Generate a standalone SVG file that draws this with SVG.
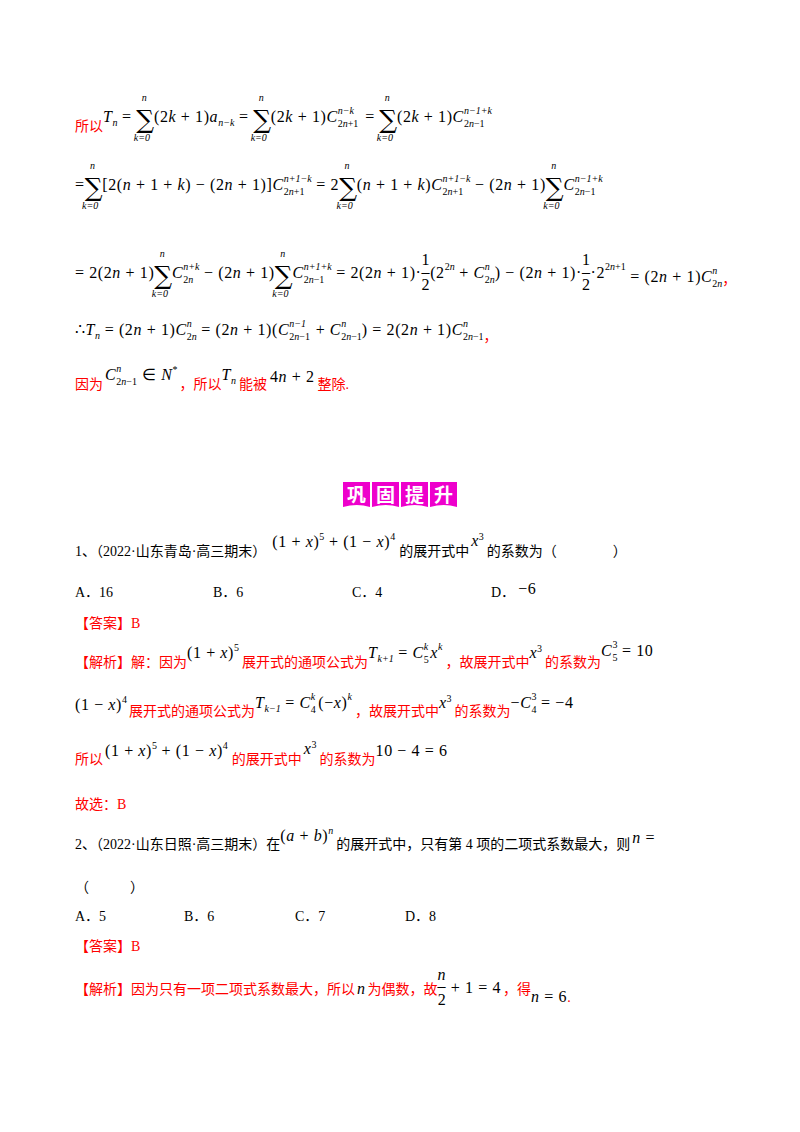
<svg xmlns="http://www.w3.org/2000/svg" width="800" height="1132" viewBox="0 0 800 1132">
<style>
.m{font-family:"Liberation Serif",serif;font-size:16px;fill:#000;letter-spacing:0.6px}
.i{font-style:italic}
.s{font-family:"Liberation Serif",serif;font-size:10px;letter-spacing:0}
.sg{font-family:"DejaVu Serif",serif;font-size:25px}
.r{font-family:"Liberation Serif","Noto Sans CJK SC",sans-serif;font-size:14px;fill:#ff0000;letter-spacing:0}
.k{font-family:"Liberation Serif","Noto Sans CJK SC",sans-serif;font-size:14px;fill:#000;letter-spacing:0}
.t{font-family:"Noto Sans CJK SC",sans-serif;font-size:19px;font-weight:bold;fill:#fff}
.box{fill:#ee00cc}
</style>
<rect width="800" height="1132" fill="#fff"/>
<g id="proof">
<text class="r" x="75" y="131">所以</text>
<text class="m" x="103" y="122"><tspan class="i">T</tspan><tspan class="s i" dy="4">n</tspan><tspan dy="-4"> = </tspan><tspan class="sg" dy="6">∑</tspan><tspan class="s i" dx="-13" dy="-27">n</tspan><tspan class="s i" dx="-13" dy="40">k=0</tspan><tspan dx="4" dy="-19">(2<tspan class="i">k</tspan> + 1)<tspan class="i">a</tspan></tspan><tspan class="s i" dy="4">n−k</tspan><tspan dy="-4"> = </tspan><tspan class="sg" dy="6">∑</tspan><tspan class="s i" dx="-13" dy="-27">n</tspan><tspan class="s i" dx="-13" dy="40">k=0</tspan><tspan dx="4" dy="-19">(2<tspan class="i">k</tspan> + 1)<tspan class="i">C</tspan></tspan><tspan class="s" dy="5">2<tspan class="i">n</tspan>+1</tspan><tspan class="s i" dx="-20.6" dy="-13">n−k</tspan><tspan dx="6.6" dy="8"> = </tspan><tspan class="sg" dy="6">∑</tspan><tspan class="s i" dx="-13" dy="-27">n</tspan><tspan class="s i" dx="-13" dy="40">k=0</tspan><tspan dx="4" dy="-19">(2<tspan class="i">k</tspan> + 1)<tspan class="i">C</tspan></tspan><tspan class="s" dy="5">2<tspan class="i">n</tspan>−1</tspan><tspan class="s i" dx="-20.6" dy="-13">n−1+k</tspan></text>

<text class="m" x="75" y="190">=<tspan class="sg" dy="6">∑</tspan><tspan class="s i" dx="-13" dy="-27">n</tspan><tspan class="s i" dx="-13" dy="40">k=0</tspan><tspan dx="4" dy="-19">[2(<tspan class="i">n</tspan> + 1 + <tspan class="i">k</tspan>) − (2<tspan class="i">n</tspan> + 1)]<tspan class="i">C</tspan></tspan><tspan class="s" dy="5">2<tspan class="i">n</tspan>+1</tspan><tspan class="s i" dx="-20.6" dy="-13">n+1−k</tspan><tspan dy="8"> = 2</tspan><tspan class="sg" dy="6">∑</tspan><tspan class="s i" dx="-13" dy="-27">n</tspan><tspan class="s i" dx="-13" dy="40">k=0</tspan><tspan dx="4" dy="-19">(<tspan class="i">n</tspan> + 1 + <tspan class="i">k</tspan>)<tspan class="i">C</tspan></tspan><tspan class="s" dy="5">2<tspan class="i">n</tspan>+1</tspan><tspan class="s i" dx="-20.6" dy="-13">n+1−k</tspan><tspan dy="8"> − (2<tspan class="i">n</tspan> + 1)</tspan><tspan class="sg" dy="6">∑</tspan><tspan class="s i" dx="-13" dy="-27">n</tspan><tspan class="s i" dx="-13" dy="40">k=0</tspan><tspan class="i" dx="4" dy="-19">C</tspan><tspan class="s" dy="5">2<tspan class="i">n</tspan>−1</tspan><tspan class="s i" dx="-20.6" dy="-13">n−1+k</tspan></text>

<text class="m" x="75" y="278">= 2(2<tspan class="i">n</tspan> + 1)<tspan class="sg" dy="6">∑</tspan><tspan class="s i" dx="-13" dy="-27">n</tspan><tspan class="s i" dx="-13" dy="40">k=0</tspan><tspan class="i" dx="4" dy="-19">C</tspan><tspan class="s" dy="5">2<tspan class="i">n</tspan></tspan><tspan class="s i" dx="-10" dy="-13">n+k</tspan><tspan dy="8"> − (2<tspan class="i">n</tspan> + 1)</tspan><tspan class="sg" dy="6">∑</tspan><tspan class="s i" dx="-13" dy="-27">n</tspan><tspan class="s i" dx="-13" dy="40">k=0</tspan><tspan class="i" dx="4" dy="-19">C</tspan><tspan class="s" dy="5">2<tspan class="i">n</tspan>−1</tspan><tspan class="s i" dx="-20.6" dy="-13">n+1+k</tspan><tspan dy="8"> = 2(2<tspan class="i">n</tspan> + 1)·</tspan><tspan dy="-13">1</tspan><tspan dx="-8.6" dy="12">–</tspan><tspan dx="-8.6" dy="13">2</tspan><tspan dy="-12">(2</tspan><tspan class="s" dy="-8">2<tspan class="i">n</tspan></tspan><tspan dy="8"> + <tspan class="i">C</tspan></tspan><tspan class="s" dy="5">2<tspan class="i">n</tspan></tspan><tspan class="s i" dx="-10" dy="-13">n</tspan><tspan dx="5" dy="8">) − (2<tspan class="i">n</tspan> + 1)·</tspan><tspan dy="-13">1</tspan><tspan dx="-8.6" dy="12">–</tspan><tspan dx="-8.6" dy="13">2</tspan><tspan dy="-12">·2</tspan><tspan class="s" dy="-8">2<tspan class="i">n</tspan>+1</tspan><tspan dy="12"> = (2<tspan class="i">n</tspan> + 1)<tspan class="i">C</tspan></tspan><tspan class="s" dy="5">2<tspan class="i">n</tspan></tspan><tspan class="s i" dx="-10" dy="-13">n</tspan><tspan class="r" dx="5" dy="10">，</tspan></text>

<text class="m" x="75" y="335">∴<tspan class="i">T</tspan><tspan class="s i" dy="4">n</tspan><tspan dy="-4"> = (2<tspan class="i">n</tspan> + 1)<tspan class="i">C</tspan></tspan><tspan class="s" dy="5">2<tspan class="i">n</tspan></tspan><tspan class="s i" dx="-10" dy="-13">n</tspan><tspan dx="5" dy="8"> = (2<tspan class="i">n</tspan> + 1)(<tspan class="i">C</tspan></tspan><tspan class="s" dy="5">2<tspan class="i">n</tspan>−1</tspan><tspan class="s i" dx="-20.6" dy="-13">n−1</tspan><tspan dx="5" dy="8"> + <tspan class="i">C</tspan></tspan><tspan class="s" dy="5">2<tspan class="i">n</tspan>−1</tspan><tspan class="s i" dx="-20.6" dy="-13">n</tspan><tspan dx="15.6" dy="8">) = 2(2<tspan class="i">n</tspan> + 1)<tspan class="i">C</tspan></tspan><tspan class="s" dy="5">2<tspan class="i">n</tspan>−1</tspan><tspan class="s i" dx="-20.6" dy="-13">n</tspan><tspan class="r" dx="15.6" dy="14">，</tspan></text>

<text class="m" x="75" y="389"><tspan class="r">因为</tspan><tspan class="i" dx="2" dy="-9">C</tspan><tspan class="s" dy="5">2<tspan class="i">n</tspan>−1</tspan><tspan class="s i" dx="-20.6" dy="-13">n</tspan><tspan dx="16" dy="8"> ∈ <tspan class="i">N</tspan></tspan><tspan class="s" dy="-7">*</tspan><tspan class="r" dx="2" dy="16">，所以</tspan><tspan class="i" dy="-9">T</tspan><tspan class="s i" dy="4">n</tspan><tspan class="r" dx="3" dy="5">能被</tspan><tspan dx="3" dy="-7">4<tspan class="i">n</tspan> + 2</tspan><tspan class="r" dx="3" dy="7">整除.</tspan></text>
</g>
<g id="title">
<path class="box" d="M343 482h27v25q-13-4-27 0z"/>
<path class="box" d="M372 482h27v25q-13-4-27 0z"/>
<path class="box" d="M401 482h27v25q-13-4-27 0z"/>
<path class="box" d="M430 482h27v25q-13-4-27 0z"/>
<text class="t" x="347" y="502">巩</text><text class="t" x="376" y="502">固</text><text class="t" x="405" y="502">提</text><text class="t" x="434" y="502">升</text>
</g>
<g id="q1">
<text class="m" x="75" y="556"><tspan class="k">1、（2022·山东青岛·高三期末）</tspan><tspan dx="6" dy="-9">(1 + <tspan class="i">x</tspan>)</tspan><tspan class="s" dy="-7">5</tspan><tspan dy="7"> + (1 − <tspan class="i">x</tspan>)</tspan><tspan class="s" dy="-7">4</tspan><tspan class="k" dx="4" dy="16">的展开式中</tspan><tspan class="i" dx="2" dy="-10">x</tspan><tspan class="s" dy="-6">3</tspan><tspan class="k" dx="3" dy="16">的系数为（</tspan><tspan class="k" dx="56">）</tspan></text>
<text class="k" x="75" y="597">A．16</text><text class="k" x="213" y="597">B．6</text><text class="k" x="352" y="597">C．4</text><text class="k" x="491" y="597">D．<tspan class="m" dx="3" dy="-3">−6</tspan></text>
<text class="r" x="75" y="628">【答案】B</text>
<text class="m" x="75" y="667"><tspan class="r">【解析】解：因为</tspan><tspan dy="-9">(1 + <tspan class="i">x</tspan>)</tspan><tspan class="s" dy="-7">5</tspan><tspan class="r" dx="3" dy="16">展开式的通项公式为</tspan><tspan class="i" dy="-9">T</tspan><tspan class="s i" dy="4">k+1</tspan><tspan dy="-4"> = <tspan class="i">C</tspan></tspan><tspan class="s" dy="5">5</tspan><tspan class="s i" dx="-5" dy="-13">k</tspan><tspan class="i" dx="2" dy="8">x</tspan><tspan class="s i" dy="-8">k</tspan><tspan class="r" dx="3" dy="17">，故展开式中</tspan><tspan class="i" dy="-9">x</tspan><tspan class="s" dy="-6">3</tspan><tspan class="r" dx="3" dy="15">的系数为</tspan><tspan class="i" dy="-11">C</tspan><tspan class="s" dy="5">5</tspan><tspan class="s" dx="-5" dy="-13">3</tspan><tspan dy="8"> = 10</tspan></text>
<text class="m" x="75" y="710">(1 − <tspan class="i">x</tspan>)<tspan class="s" dy="-7">4</tspan><tspan class="r" dx="2" dy="13">展开式的通项公式为</tspan><tspan class="i" dy="-8">T</tspan><tspan class="s i" dy="4">k−1</tspan><tspan dy="-4"> = <tspan class="i">C</tspan></tspan><tspan class="s" dy="5">4</tspan><tspan class="s i" dx="-5" dy="-13">k</tspan><tspan dx="3" dy="8">(−<tspan class="i">x</tspan>)</tspan><tspan class="s i" dy="-8">k</tspan><tspan class="r" dx="3" dy="16">，故展开式中</tspan><tspan class="i" dy="-8">x</tspan><tspan class="s" dy="-6">3</tspan><tspan class="r" dx="3" dy="14">的系数为</tspan><tspan dy="-8">−<tspan class="i">C</tspan></tspan><tspan class="s" dy="5">4</tspan><tspan class="s" dx="-5" dy="-13">3</tspan><tspan dy="8"> = −4</tspan></text>
<text class="m" x="75" y="764"><tspan class="r">所以</tspan><tspan dx="2" dy="-8">(1 + <tspan class="i">x</tspan>)</tspan><tspan class="s" dy="-7">5</tspan><tspan dy="7"> + (1 − <tspan class="i">x</tspan>)</tspan><tspan class="s" dy="-7">4</tspan><tspan class="r" dx="4" dy="15">的展开式中</tspan><tspan class="i" dx="2" dy="-10">x</tspan><tspan class="s" dy="-6">3</tspan><tspan class="r" dx="3" dy="16">的系数为</tspan><tspan dy="-8">10 − 4 = 6</tspan></text>
<text class="r" x="75" y="809">故选：B</text>
</g>
<g id="q2">
<text class="m" x="75" y="849"><tspan class="k">2、（2022·山东日照·高三期末）在</tspan><tspan dy="-8">(<tspan class="i">a</tspan> + <tspan class="i">b</tspan>)</tspan><tspan class="s i" dy="-7">n</tspan><tspan class="k" dx="3" dy="15">的展开式中，只有第 4 项的二项式系数最大，则</tspan><tspan class="i" dx="2" dy="-6">n</tspan><tspan> =</tspan></text>
<text class="k" x="75" y="892">（</text><text class="k" x="130" y="892">）</text>
<text class="k" x="75" y="921">A．5</text><text class="k" x="184" y="921">B．6</text><text class="k" x="295" y="921">C．7</text><text class="k" x="405" y="921">D．8</text>
<text class="r" x="75" y="951">【答案】B</text>
<text class="m" x="75" y="994"><tspan class="r">【解析】因为只有一项二项式系数最大，所以</tspan><tspan class="i" dx="2">n</tspan><tspan class="r" dx="2">为偶数，故</tspan><tspan class="i" dy="-14">n</tspan><tspan dx="-8.6" dy="11">–</tspan><tspan dx="-8.6" dy="14">2</tspan><tspan dy="-12"> + 1 = 4</tspan><tspan class="r" dx="2" dy="1">，得</tspan><tspan class="i" dy="8">n</tspan><tspan> = 6</tspan><tspan class="r">.</tspan></text>
</g>
</svg>
